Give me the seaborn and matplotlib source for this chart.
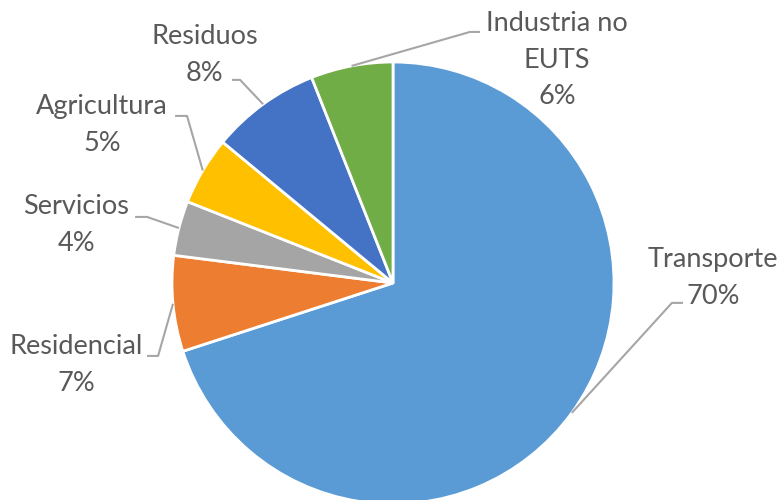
import numpy as np
import seaborn as sns
import matplotlib.pyplot as plt

# Emisiones por sector (%)
sectors = ['Transporte', 'Residencial', 'Servicios', 'Agricultura', 'Residuos', 'Industria no\nEUTS']
shares = [70, 7, 4, 5, 8, 6]
colors = ['#5B9BD5', '#ED7D31', '#A5A5A5', '#FFC000', '#4472C4', '#70AD47']

# label centres and leader-line elbows (data units, pie radius = 1)
label_pos = [(1.448, 0.023), (-1.434, -0.371), (-1.434, 0.262),
             (-1.317, 0.715), (-0.851, 1.032), (0.742, 1.009)]
elbows = [((1.262, -0.090), (1.312, -0.090)),
          ((-1.063, -0.330), (-1.113, -0.330)),
          ((-1.113, 0.299), (-1.167, 0.299)),
          ((-0.932, 0.756), (-0.986, 0.756)),
          ((-0.692, 0.919), (-0.729, 0.919)),
          ((0.348, 1.136), (0.394, 1.136))]

sns.set_theme(style='white')
plt.rcParams['font.family'] = ['Lato', 'DejaVu Sans']

fig = plt.figure(figsize=(7.83, 5), dpi=100)
ax = fig.add_axes([0, 0, 1, 1])
wedges, _ = ax.pie(shares, colors=sns.color_palette(colors), startangle=90,
                   counterclock=False, radius=1,
                   wedgeprops=dict(edgecolor='white', linewidth=2))

total = sum(shares)
cum = np.cumsum([0] + shares)
for i, (name, val) in enumerate(zip(sectors, shares)):
    mid = (cum[i] + val / 2) / total * 2 * np.pi
    px, py = np.sin(mid), np.cos(mid)
    (ex1, ey1), (ex2, ey2) = elbows[i]
    ax.plot([px, ex1, ex2], [py, ey1, ey2], color='#A6A6A6', lw=1.5,
            solid_capstyle='butt', zorder=1)
    tx, ty = label_pos[i]
    ax.text(tx, ty, f'{name}\n{val}%', ha='center', va='center',
            fontsize=19.5, color='#595959', linespacing=1.58)

ax.set_xlim(-393 / 221, (783 - 393) / 221)
ax.set_ylim(-(500 - 283) / 221, 283 / 221)
ax.set_aspect('auto')
ax.axis('off')

fig.savefig('out.png', dpi=100, facecolor='white')
